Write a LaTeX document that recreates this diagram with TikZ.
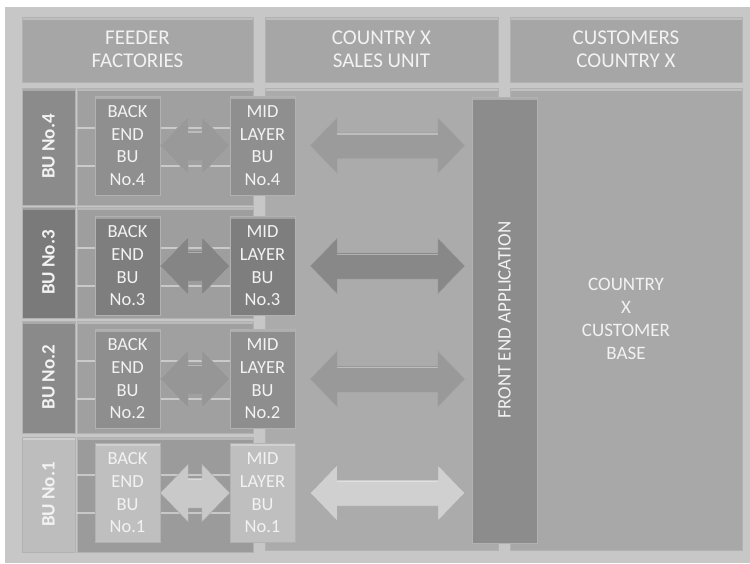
\documentclass[tikz,border=0pt]{standalone}
\usepackage{fontspec}
\setmainfont{Carlito}
\usetikzlibrary{calc}

\definecolor{bgouter}{HTML}{C7C7C7}
\definecolor{hdrfill}{HTML}{A6A6A6}
\definecolor{panfill}{HTML}{ABABAB}
\definecolor{custfill}{HTML}{A8A8A8}
\definecolor{fefill}{HTML}{8C8C8C}
\definecolor{txt}{HTML}{F2F2F2}
% per business-unit row shades
\definecolor{cell4}{HTML}{8B8B8B}\definecolor{cell3}{HTML}{7A7A7A}
\definecolor{cell2}{HTML}{8A8A8A}\definecolor{cell1}{HTML}{BDBDBD}
\definecolor{box4}{HTML}{8F8F8F}\definecolor{box3}{HTML}{7E7E7E}
\definecolor{box2}{HTML}{8E8E8E}\definecolor{box1}{HTML}{BFBFBF}
\definecolor{band4}{HTML}{A0A0A0}\definecolor{band3}{HTML}{9E9E9E}
\definecolor{band2}{HTML}{A0A0A0}\definecolor{band1}{HTML}{9B9B9B}
\definecolor{sarr4}{HTML}{999999}\definecolor{sarr3}{HTML}{858585}
\definecolor{sarr2}{HTML}{969696}\definecolor{sarr1}{HTML}{C9C9C9}
\definecolor{barr4}{HTML}{9B9B9B}\definecolor{barr3}{HTML}{888888}
\definecolor{barr2}{HTML}{999999}\definecolor{barr1}{HTML}{D0D0D0}

% wide double-headed block arrow between two points on one level:
% #1 left tip, #2 right tip, #3 head length, #4 half head, #5 half shaft, #6 fill
\newcommand\fatarrow[6]{%
  \filldraw[fill=#6, draw=black!35, line width=.4]
    (#1) -- ($(#1)+(#3,-#4)$) -- ($(#1)+(#3,-#5)$) -- ($(#2)+(-#3,-#5)$)
    -- ($(#2)+(-#3,-#4)$) -- (#2) -- ($(#2)+(-#3,#4)$) -- ($(#2)+(-#3,#5)$)
    -- ($(#1)+(#3,#5)$) -- ($(#1)+(#3,#4)$) -- cycle;
  \draw[white, opacity=.35, line width=1.5]
    ($(#1)+(#3,-#5+1.5)$) -- ($(#2)+(-#3,-#5+1.5)$);
}

\begin{document}
\begin{tikzpicture}[x=1pt, y=-1pt,
  bevel/.style={path picture={
      \fill[white, opacity=.28] (path picture bounding box.north west)
        rectangle ([yshift=-2.5pt]path picture bounding box.north east);}},
  block/.style={rectangle, inner sep=0, draw=black!30, line width=.4, bevel},
  hdr/.style={block, fill=hdrfill, minimum width=231, minimum height=65,
      text=txt, align=center, font=\fontsize{21}{23}\selectfont},
  panel/.style={block, minimum width=233, minimum height=462},
  band/.style={block, minimum width=176},
  cell/.style={block, minimum width=53},
  unitbox/.style={block, minimum width=65, minimum height=99,
      text=txt, align=center, font=\fontsize{18.5}{22.7}\selectfont},
  celltext/.style={rotate=90, text=txt, font=\bfseries\fontsize{19}{20}\selectfont},
  rail/.style={white, opacity=.45, line width=2}
]
\useasboundingbox (0,0) rectangle (750,563);
\fill[white] (0,0) rectangle (750,563);
\fill[bgouter] (5,7) rectangle (750,563);

% column headers
\node[hdr] (hff) at (137.5,49.5) {FEEDER\\FACTORIES};
\node[hdr, minimum width=233] (hsu) at (381.5,49.5) {COUNTRY X\\SALES UNIT};
\node[hdr, minimum width=232] (hcu) at (626,49.5) {CUSTOMERS\\COUNTRY X};

% sales-unit and customer panels
\node[panel, fill=panfill] (psu) at (381.5,319) {};
\node[panel, fill=custfill, minimum width=232, text=txt, align=center,
      font=\fontsize{19}{23}\selectfont] (pcb) at (626,319)
      {COUNTRY\\X\\CUSTOMER\\BASE};

% front end application bar
\node[block, fill=fefill, minimum width=65, minimum height=446] (fe) at (504.5,320) {};
\node[rotate=90, text=txt, font=\fontsize{19}{20}\selectfont] (fet) at (fe) {FRONT END APPLICATION};

% business-unit rows: number / top / bottom / box centre
\foreach \n/\ta/\tb/\c in {4/88/205/145.5, 3/207/318/266, 2/321/433/379, 1/437/552/493}{
  \node[band, fill=band\n, minimum height={\tb-\ta}] (band\n) at (165,{(\ta+\tb)/2}) {};
  \node[cell, fill=cell\n, minimum height={\tb-\ta}] (bu\n) at (48.5,{(\ta+\tb)/2}) {};
  \node[celltext] (bul\n) at (bu\n) {BU No.\n};
  \draw[rail] ($(band\n.west |- 0,\c)+(0,-18)$) -- ($(band\n.west |- 0,\c)+(155,-18)$);
  \draw[rail] ($(band\n.west |- 0,\c)+(0,20)$) -- ($(band\n.west |- 0,\c)+(155,20)$);
  \node[unitbox, fill=box\n] (be\n) at (127.5,\c) {BACK\\END\\BU\\No.\n};
  \node[unitbox, fill=box\n] (ml\n) at (262.5,\c) {MID\\LAYER\\BU\\No.\n};
  \fatarrow{be\n.east}{ml\n.west}{28}{29}{15}{sarr\n}
  \coordinate (bl\n) at ($(ml\n.east)+(15,0)$);
  \coordinate (br\n) at ($(fe.west |- ml\n.east)+(-7,0)$);
  \fatarrow{bl\n}{br\n}{27}{28}{13}{barr\n}
}
\end{tikzpicture}
\end{document}
